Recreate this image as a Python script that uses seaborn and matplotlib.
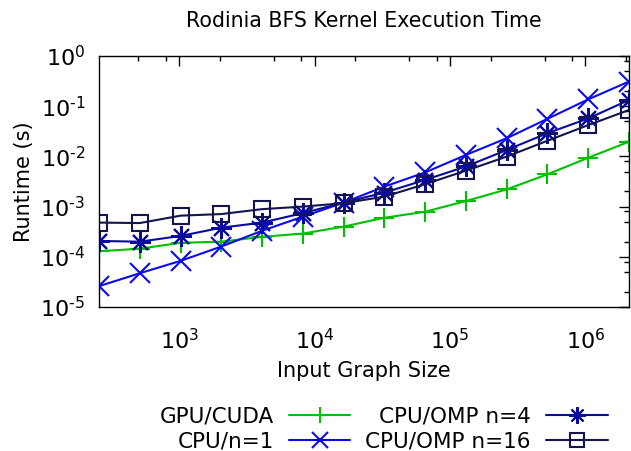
import numpy as np
import pandas as pd
import matplotlib
matplotlib.use("Agg")
import matplotlib.pyplot as plt
import matplotlib.ticker as mticker
import seaborn as sns

sizes = [2**k for k in range(8, 22)]
gpu_cuda = [1.29e-4, 1.45e-4, 1.9e-4, 2.0e-4, 2.5e-4, 2.9e-4, 4.0e-4,
            6.0e-4, 7.9e-4, 1.29e-3, 2.2e-3, 4.4e-3, 9.4e-3, 1.96e-2]
cpu_n1 = [2.6e-5, 4.7e-5, 8.3e-5, 1.6e-4, 3.3e-4, 6.3e-4, 1.2e-3,
          2.5e-3, 4.8e-3, 1.07e-2, 2.3e-2, 5.6e-2, 0.137, 0.31]
cpu_omp4 = [2.07e-4, 2.0e-4, 2.6e-4, 3.8e-4, 4.8e-4, 7.4e-4, 1.2e-3,
            1.9e-3, 3.4e-3, 6.3e-3, 1.34e-2, 2.9e-2, 5.7e-2, 0.133]
cpu_omp16 = [4.8e-4, 4.7e-4, 6.6e-4, 7.1e-4, 8.9e-4, 1.0e-3, 1.17e-3,
             1.58e-3, 2.8e-3, 5.2e-3, 9.9e-3, 2.05e-2, 4.2e-2, 0.084]

series_names = ["GPU/CUDA", "CPU/n=1", "CPU/OMP n=4", "CPU/OMP n=16"]
series_vals = [gpu_cuda, cpu_n1, cpu_omp4, cpu_omp16]
colors = ["#00c000", "#0a0af0", "#0a0aa0", "#14144e"]
markers = ["+", "x", (8, 2, 0), "s"]
msizes = [15, 14, 15, 12]
leg_msizes = [11, 12, 12, 10]

sns.set_style("white")
plt.rcParams["font.family"] = ["DejaVu Sans"]
plt.rcParams["font.size"] = 15
plt.rcParams["text.color"] = "black"
plt.rcParams["axes.labelcolor"] = "black"
plt.rcParams["xtick.color"] = "black"
plt.rcParams["ytick.color"] = "black"

fig = plt.figure(figsize=(6.31, 4.51), dpi=100)
ax = fig.add_axes([99/631, 1-307/451, 530/631, 251/451])

for name, vals, c, m, ms in zip(series_names, series_vals, colors, markers, msizes):
    df = pd.DataFrame({"size": sizes, "time": vals})
    sns.lineplot(data=df, x="size", y="time", ax=ax, color=c, marker=m,
                 markersize=ms, markeredgewidth=1.5, markeredgecolor=c,
                 markerfacecolor="none", linewidth=1.5, label=name)

ax.set_xscale("log")
ax.set_yscale("log")
ax.set_xlim(256, 2**21)
ax.set_ylim(1e-5, 1)

def fmt(v, pos):
    e = int(round(np.log10(v)))
    if e < 0:
        return r"$\mathdefault{10^{\text{-%d}}}$" % (-e)
    return r"$\mathdefault{10^{%d}}$" % e

ax.xaxis.set_major_locator(mticker.LogLocator(base=10, numticks=20))
ax.yaxis.set_major_locator(mticker.LogLocator(base=10, numticks=20))
ax.xaxis.set_minor_locator(mticker.LogLocator(base=10, subs=[2, 5, 8], numticks=20))
ax.yaxis.set_minor_locator(mticker.LogLocator(base=10, subs=[2, 5, 8], numticks=20))
ax.xaxis.set_major_formatter(mticker.FuncFormatter(fmt))
ax.yaxis.set_major_formatter(mticker.FuncFormatter(fmt))
ax.xaxis.set_minor_formatter(mticker.NullFormatter())
ax.yaxis.set_minor_formatter(mticker.NullFormatter())

ax.tick_params(which="both", direction="in", top=True, right=True,
               color="black", width=1.0, labelsize=16, labelcolor="black")
ax.tick_params(which="major", length=7.2)
ax.tick_params(which="minor", length=3.6)
ax.tick_params(axis="x", which="major", pad=15)
ax.tick_params(axis="y", which="major", pad=10)
for s in ax.spines.values():
    s.set_visible(True)
    s.set_color("black")
    s.set_linewidth(1.0)

ax.set_title("Rodinia BFS Kernel Execution Time", fontsize=14.8, pad=21, color="black")
ax.set_xlabel("Input Graph Size", fontsize=15, labelpad=6)
ax.set_ylabel("Runtime (s)", fontsize=15, labelpad=4)

handles, labels = ax.get_legend_handles_labels()
leg = ax.legend(handles, labels, loc="center", bbox_to_anchor=(383.5/631, 1-429/451),
                bbox_transform=fig.transFigure, ncol=2, frameon=False,
                markerfirst=False, handlelength=2.86, handletextpad=0.7,
                columnspacing=0.7, labelspacing=0.25, fontsize=15.5,
                borderpad=0, borderaxespad=0)
for ln, lms in zip(leg.get_lines(), leg_msizes):
    ln.set_markersize(lms)

fig.savefig("out.png", dpi=100)
